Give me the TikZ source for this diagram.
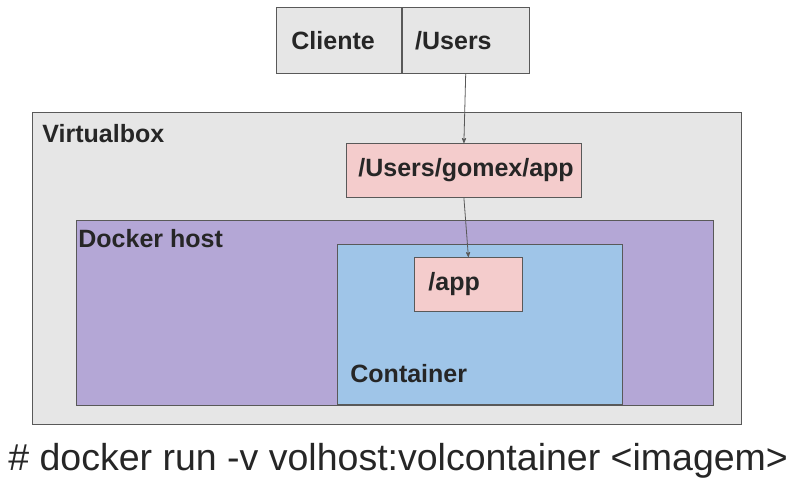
\documentclass[tikz,border=0pt]{standalone}
\usepackage{fontspec}
\setmainfont{Liberation Sans}
\usetikzlibrary{arrows,positioning}

\definecolor{linegray}{HTML}{595959}
\definecolor{boxgray}{HTML}{E6E6E6}
\definecolor{volpink}{HTML}{F4CCCC}
\definecolor{hostpurple}{HTML}{B4A7D6}
\definecolor{ctblue}{HTML}{9FC5E8}
\definecolor{txtgray}{HTML}{262626}

\begin{document}
\begin{tikzpicture}[x=1pt,y=-1pt,->,>=stealth',shorten >=0pt,line width=0.8pt,
    box/.style={rectangle,draw=linegray,inner sep=0pt,anchor=north west},
    vol/.style={box,fill=volpink,minimum height=54pt,align=left,
        font=\bfseries\fontsize{25}{30}\selectfont,text=txtgray},
    lbl/.style={anchor=base west,inner sep=0pt,
        font=\bfseries\fontsize{25}{30}\selectfont,text=txtgray}]

\useasboundingbox (0,0) rectangle (802,479);

\node[box,fill=boxgray,minimum width=709pt,minimum height=312pt] (vbox) at (32,112) {};
\node[box,fill=hostpurple,minimum width=637pt,minimum height=185pt] (host) at (76,220) {};
\node[box,fill=ctblue,minimum width=285pt,minimum height=160pt] (ct) at (337,244) {};

\node[lbl] (vboxlbl) at (42,142) {Virtualbox};
\node[lbl] (hostlbl) at (78,247) {Docker host};
\node[lbl] (ctlbl) at (350,382) {Container};

\node[vol,fill=boxgray,minimum height=66pt,text width=95pt,inner xsep=15pt] (cliente) at (276,7) {Cliente};
\node[vol,fill=boxgray,minimum height=66pt,text width=101pt,inner xsep=13pt,
    anchor=west,right=0pt of cliente] (users) {/Users};
\node[vol,text width=211pt,inner xsep=12pt,align=center] (gomex) at (346,143) {/Users/gomex/app};
\node[vol,text width=80pt,inner xsep=14pt] (app) at (414,257) {/app};

\node[anchor=base west,inner sep=0pt,text=txtgray,
    font=\fontsize{37.5}{44}\selectfont] (cmd) at (8,470) {\# docker run -v volhost:volcontainer <imagem>};

\path[color=linegray]
(users.south) edge (gomex.north)
(gomex.south) edge (app.north)
;

\end{tikzpicture}
\end{document}
